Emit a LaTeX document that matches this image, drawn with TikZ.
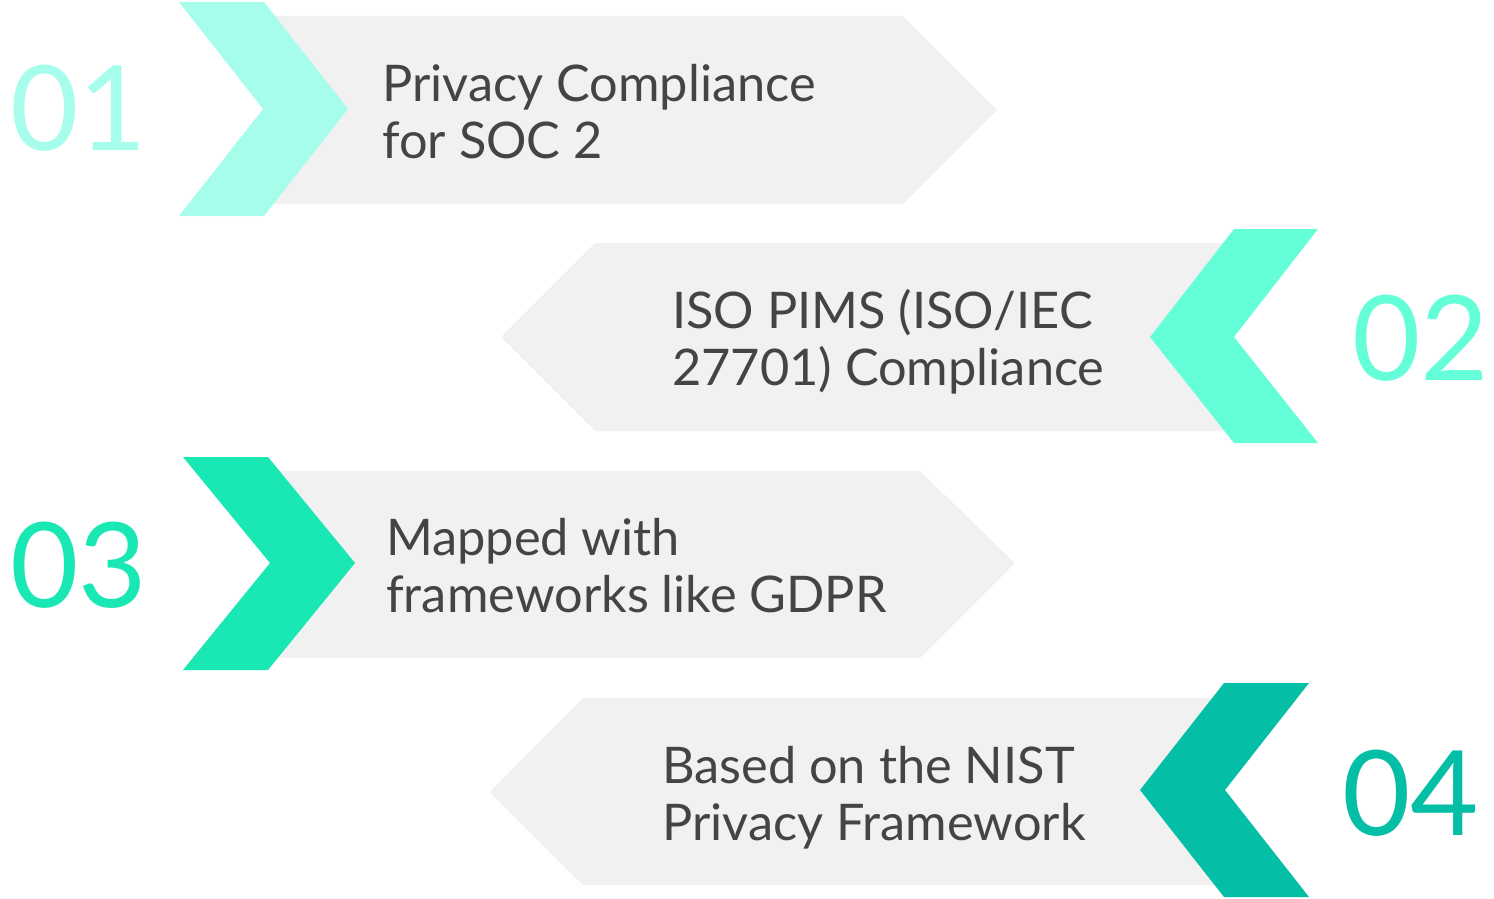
\documentclass[tikz,border=0pt]{standalone}
\usepackage{fontspec}
\setmainfont{Lato}
\usetikzlibrary{positioning}
\definecolor{mintA}{HTML}{A6FDEB}
\definecolor{mintB}{HTML}{64FFD9}
\definecolor{mintC}{HTML}{1AE8B4}
\definecolor{mintD}{HTML}{04BFA6}
\definecolor{bandgray}{HTML}{F1F1F1}
\definecolor{textgray}{HTML}{444444}
\begin{document}
\begin{tikzpicture}[x=1pt,y=-1pt]
	\tikzstyle{band}=[fill=bandgray]
	\tikzstyle{caption}=[anchor=base west,inner sep=0pt,align=left,text=textgray,font=\fontsize{50.5}{57}\selectfont]
	\tikzstyle{num}=[anchor=base west,inner sep=0pt,font=\fontsize{118}{118}\selectfont]
	\useasboundingbox (0,0) rectangle (1494,899);
	% row 1
	\fill[band] (270,16) -- (903,16) -- (997,110) -- (903,204) -- (270,204) -- cycle;
	\fill[mintA] (179,2) -- (264,2) -- (348,109) -- (264,216) -- (179,216) -- (263,109) -- cycle;
	\node[caption] (soc) at (382,158) {Privacy Compliance\\for SOC 2};
	\node[num,text=mintA] (n1) at (10,150) {01};
	% row 2
	\fill[band] (501,337) -- (595,243) -- (1230,243) -- (1230,431) -- (595,431) -- cycle;
	\fill[mintB] (1318,229) -- (1234,229) -- (1150,337) -- (1234,443) -- (1318,443) -- (1234,337) -- cycle;
	\node[caption] (pims) at (672,385) {ISO PIMS (ISO/IEC\\27701) Compliance};
	\node[num,text=mintB] (n2) at (1352,380) {02};
	% row 3
	\fill[band] (275,471) -- (920,471) -- (1015,563) -- (920,658) -- (275,658) -- cycle;
	\fill[mintC] (183,457) -- (268,457) -- (355,563) -- (268,670) -- (183,670) -- (270,563) -- cycle;
	\node[caption] (gdpr) at (386,612) {Mapped with\\frameworks like GDPR};
	\node[num,text=mintC] (n3) at (10,607) {03};
	% row 4
	\fill[band] (490,792) -- (583,698) -- (1220,698) -- (1220,885) -- (583,885) -- cycle;
	\fill[mintD] (1309,683) -- (1224,683) -- (1140,790) -- (1224,897) -- (1309,897) -- (1225,790) -- cycle;
	\node[caption] (nist) at (662,840) {Based on the NIST\\Privacy Framework};
	\node[num,text=mintD] (n4) at (1342,835) {04};
\end{tikzpicture}
\end{document}
